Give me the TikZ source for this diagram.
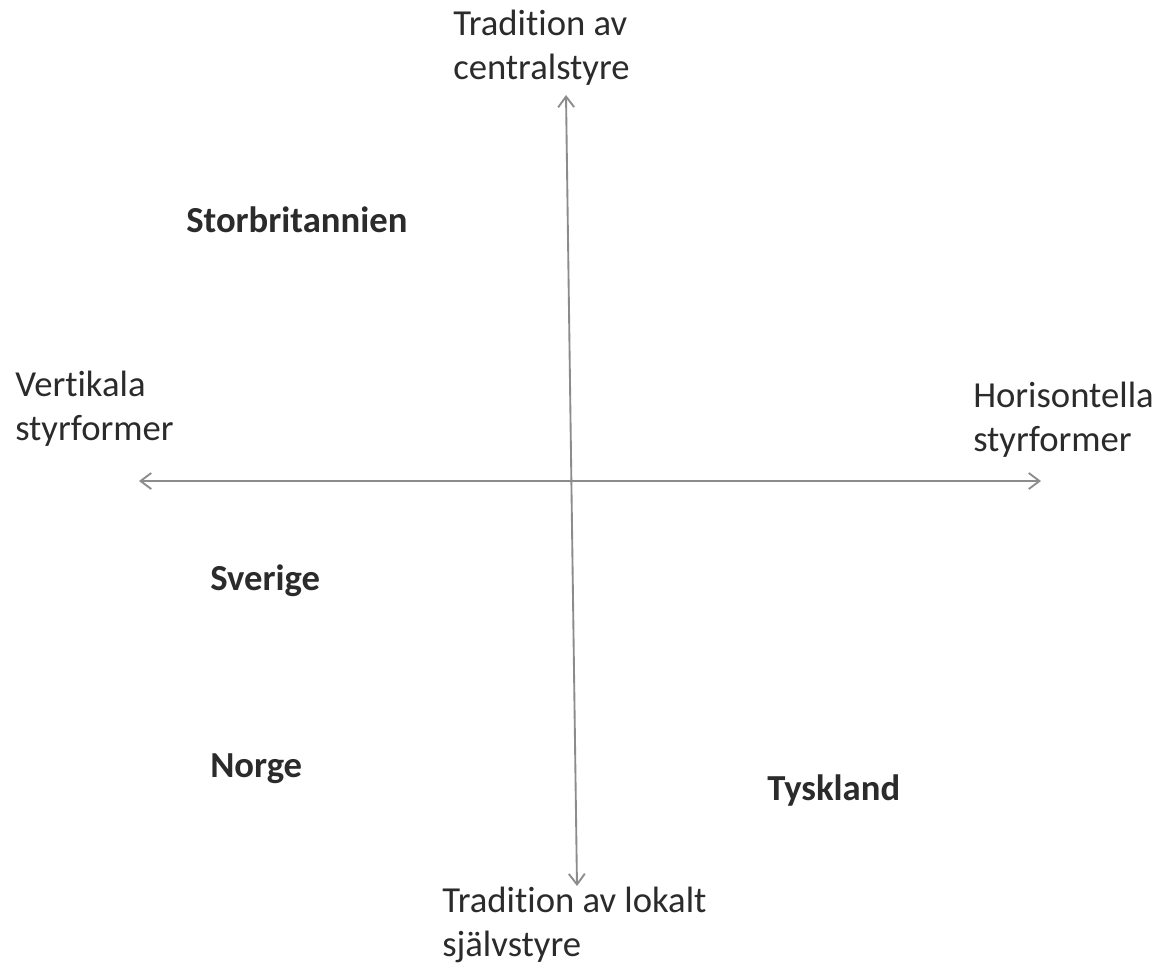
\documentclass[tikz,border=0pt]{standalone}
\usepackage{fontspec}
\setmainfont[Ligatures=NoCommon]{Carlito}
\usetikzlibrary{arrows.meta}

\definecolor{axisgray}{HTML}{8C8C8C}
\definecolor{textgray}{HTML}{2B2B2B}

\tikzset{axislabel/.style={text=textgray,align=left,inner sep=0pt,anchor=west,
                           font=\fontsize{27.5}{33}\selectfont}}
\tikzset{country/.style={axislabel,font=\fontsize{27.5}{33}\selectfont\bfseries}}
\tikzset{axis/.style={draw=axisgray,line width=1.4pt,
                      {Straight Barb[length=8pt,width=12pt]}-{Straight Barb[length=8pt,width=12pt]}}}

\begin{document}
\begin{tikzpicture}[x=0.75pt,y=-0.75pt]
        \useasboundingbox[fill=white] (0,0) rectangle (1167,965);
        % axes
        \coordinate (top) at (566,95);
        \coordinate (bottom) at (577,886);
        \coordinate (left) at (139,481);
        \coordinate (right) at (1041,481);
        \draw[axis] (left) -- (right);
        \draw[axis] (top) -- (bottom);
        % axis ends
        \node[axislabel] (central) at (453,48) {Tradition av\\centralstyre};
        \node[axislabel] (lokalt) at (442,925) {Tradition av lokalt\\självstyre};
        \node[axislabel] (vertikal) at (15,409) {Vertikala\\styrformer};
        \node[axislabel] (horisont) at (973,420) {Horisontella\\styrformer};
        % countries
        \node[country] (gb) at (186,220) {Storbritannien};
        \node[country] (se) at (210,581) {Sverige};
        \node[country] (no) at (210,769) {Norge};
        \node[country] (de) at (767,791) {Tyskland};
\end{tikzpicture}
\end{document}
